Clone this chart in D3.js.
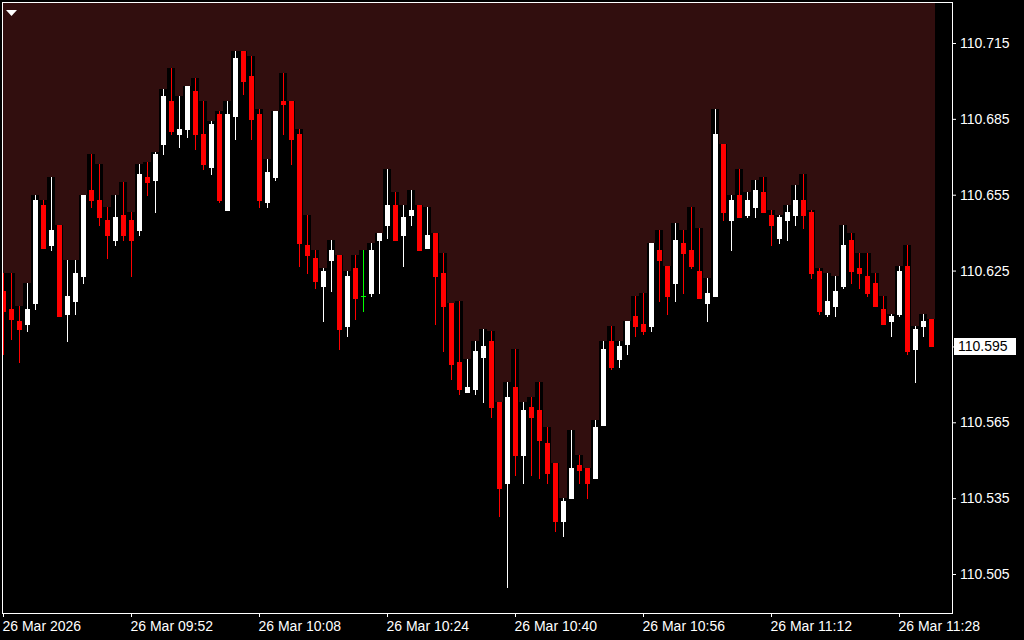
<!DOCTYPE html>
<html>
<head>
<meta charset="utf-8">
<script src="https://cdn.jsdelivr.net/npm/d3@7"></script>
<style>
  body { margin: 0; background: #000; }
  svg { display: block; }
</style>
</head>
<body>
<div id="wrapper"></div>
<script>
// one-minute bars, 26 Mar 09:36 .. 11:32
const open = [
  110.617, 110.610, 110.605, 110.604, 110.612, 110.651, 110.635, 110.643, 110.608, 110.613,
  110.623, 110.657, 110.653, 110.645, 110.637, 110.647, 110.645, 110.641, 110.662, 110.661,
  110.675, 110.692, 110.679, 110.681, 110.696, 110.679, 110.666, 110.687, 110.649, 110.686,
  110.712, 110.702, 110.687, 110.652, 110.662, 110.692, 110.692, 110.679, 110.635, 110.630,
  110.619, 110.629, 110.631, 110.603, 110.626, 110.615, 110.616, 110.637, 110.643, 110.651,
  110.639, 110.647, 110.651, 110.634, 110.640, 110.624, 110.612, 110.589, 110.577, 110.578,
  110.591, 110.597, 110.573, 110.541, 110.579, 110.552, 110.571, 110.570, 110.557, 110.549,
  110.526, 110.535, 110.548, 110.547, 110.543, 110.564, 110.597, 110.590, 110.596, 110.607,
  110.604, 110.603, 110.633, 110.627, 110.620, 110.636, 110.633, 110.625, 110.612, 110.615,
  110.675, 110.645, 110.655, 110.647, 110.650, 110.656, 110.647, 110.638, 110.645, 110.647,
  110.653, 110.648, 110.625, 110.608, 110.611, 110.619, 110.637, 110.626, 110.623, 110.620,
  110.610, 110.605, 110.608, 110.627, 110.594, 110.603, 110.606
];
const high = [
  110.624, 110.624, 110.611, 110.620, 110.655, 110.653, 110.662, 110.643, 110.629, 110.629,
  110.655, 110.671, 110.667, 110.650, 110.655, 110.660, 110.648, 110.667, 110.668, 110.672,
  110.697, 110.705, 110.694, 110.698, 110.701, 110.692, 110.684, 110.688, 110.692, 110.712,
  110.712, 110.710, 110.689, 110.669, 110.688, 110.703, 110.692, 110.681, 110.647, 110.633,
  110.626, 110.637, 110.631, 110.625, 110.631, 110.633, 110.636, 110.640, 110.665, 110.656,
  110.651, 110.657, 110.651, 110.650, 110.640, 110.632, 110.612, 110.613, 110.590, 110.597,
  110.602, 110.601, 110.573, 110.581, 110.594, 110.573, 110.575, 110.581, 110.563, 110.549,
  110.535, 110.562, 110.552, 110.547, 110.566, 110.597, 110.603, 110.597, 110.605, 110.615,
  110.616, 110.636, 110.641, 110.627, 110.644, 110.641, 110.650, 110.642, 110.622, 110.689,
  110.675, 110.655, 110.665, 110.656, 110.661, 110.662, 110.649, 110.647, 110.651, 110.659,
  110.663, 110.649, 110.626, 110.624, 110.623, 110.643, 110.640, 110.632, 110.632, 110.624,
  110.615, 110.608, 110.627, 110.635, 110.603, 110.608, 110.606
];
const low = [
  110.592, 110.598, 110.589, 110.601, 110.610, 110.634, 110.633, 110.607, 110.597, 110.608,
  110.620, 110.650, 110.643, 110.630, 110.635, 110.637, 110.623, 110.639, 110.655, 110.648,
  110.671, 110.679, 110.674, 110.678, 110.673, 110.665, 110.663, 110.652, 110.649, 110.677,
  110.695, 110.677, 110.650, 110.650, 110.661, 110.679, 110.667, 110.627, 110.624, 110.618,
  110.605, 110.617, 110.594, 110.599, 110.606, 110.609, 110.615, 110.616, 110.638, 110.637,
  110.627, 110.643, 110.633, 110.634, 110.604, 110.593, 110.582, 110.576, 110.577, 110.576,
  110.573, 110.567, 110.528, 110.500, 110.544, 110.541, 110.544, 110.543, 110.541, 110.522,
  110.520, 110.535, 110.541, 110.535, 110.543, 110.564, 110.586, 110.587, 110.592, 110.599,
  110.600, 110.601, 110.613, 110.608, 110.613, 110.616, 110.626, 110.614, 110.605, 110.615,
  110.645, 110.633, 110.646, 110.646, 110.646, 110.648, 110.635, 110.636, 110.637, 110.643,
  110.642, 110.622, 110.608, 110.607, 110.607, 110.618, 110.620, 110.618, 110.615, 110.611,
  110.604, 110.599, 110.607, 110.592, 110.581, 110.599, 110.595
];
const close = [
  110.609, 110.606, 110.602, 110.610, 110.653, 110.634, 110.641, 110.607, 110.615, 110.624,
  110.655, 110.653, 110.646, 110.639, 110.646, 110.639, 110.637, 110.663, 110.660, 110.671,
  110.694, 110.680, 110.681, 110.698, 110.679, 110.667, 110.683, 110.653, 110.687, 110.709,
  110.700, 110.685, 110.653, 110.664, 110.688, 110.691, 110.677, 110.636, 110.631, 110.621,
  110.625, 110.633, 110.602, 110.623, 110.614, 110.615, 110.633, 110.640, 110.651, 110.637,
  110.646, 110.649, 110.633, 110.639, 110.623, 110.611, 110.588, 110.578, 110.579, 110.593,
  110.595, 110.571, 110.539, 110.575, 110.552, 110.570, 110.567, 110.558, 110.545, 110.526,
  110.534, 110.547, 110.546, 110.541, 110.563, 110.594, 110.587, 110.595, 110.605, 110.603,
  110.601, 110.636, 110.629, 110.615, 110.637, 110.632, 110.627, 110.614, 110.616, 110.679,
  110.648, 110.653, 110.646, 110.653, 110.657, 110.648, 110.643, 110.646, 110.648, 110.653,
  110.647, 110.624, 110.609, 110.613, 110.617, 110.635, 110.625, 110.624, 110.616, 110.611,
  110.604, 110.607, 110.625, 110.593, 110.602, 110.605, 110.595
];

const priceTicks = [110.715, 110.685, 110.655, 110.625, 110.595, 110.565, 110.535, 110.505];
const timeTickIndex = [0, 16, 32, 48, 64, 80, 96, 112];
const timeTickLabels = [
  "26 Mar 2026", "26 Mar 09:52", "26 Mar 10:08", "26 Mar 10:24",
  "26 Mar 10:40", "26 Mar 10:56", "26 Mar 11:12", "26 Mar 11:28"
];

function buildChart() {
  const dimensions = {
    width: 1024,
    height: 640,
    left: 2,
    top: 2,
    right: 952,
    bottom: 613,
  };

  const svg = d3
    .select("#wrapper")
    .append("svg")
    .attr("width", dimensions.width)
    .attr("height", dimensions.height)
    .style("font-family", "'Liberation Sans', Arial, sans-serif");

  svg.append("rect")
    .attr("width", dimensions.width)
    .attr("height", dimensions.height)
    .attr("fill", "#000");

  svg.append("defs")
    .append("clipPath")
    .attr("id", "plot")
    .append("rect")
    .attr("x", dimensions.left + 1)
    .attr("y", dimensions.top + 1)
    .attr("width", dimensions.right - dimensions.left - 1)
    .attr("height", dimensions.bottom - dimensions.top - 1);

  const x = d3.scaleLinear().domain([0, open.length - 1]).range([3, 931]);
  const y = d3.scaleLinear().domain([110.505, 110.715]).range([574, 43]);
  const py = (v) => Math.round(y(v));

  const candles = open.map((o, i) => ({ i, o, h: high[i], l: low[i], c: close[i] }));
  const colour = (d) => (d.c > d.o ? "#ffffff" : d.c < d.o ? "#ff0000" : "#00ff00");

  const plot = svg.append("g").attr("clip-path", "url(#plot)");

  // dark red backdrop over the bar span
  plot.append("rect")
    .attr("x", dimensions.left + 1)
    .attr("y", dimensions.top + 1)
    .attr("width", x(open.length - 1) + 4 - (dimensions.left + 1))
    .attr("height", dimensions.bottom - dimensions.top - 1)
    .attr("fill", "#310e0e");

  // black column under each bar's high
  plot.selectAll(".column")
    .data(candles)
    .join("rect")
    .attr("class", "column")
    .attr("x", (d) => x(d.i) - 4)
    .attr("y", (d) => py(d.h))
    .attr("width", 8)
    .attr("height", (d) => dimensions.bottom - py(d.h))
    .attr("fill", "#000");

  // wicks
  plot.selectAll(".wick")
    .data(candles)
    .join("rect")
    .attr("class", "wick")
    .attr("x", (d) => x(d.i))
    .attr("y", (d) => py(d.h))
    .attr("width", 1)
    .attr("height", (d) => py(d.l) - py(d.h) + 1)
    .attr("fill", colour);

  // bodies (doji -> flat green bar)
  plot.selectAll(".body")
    .data(candles)
    .join("rect")
    .attr("class", "body")
    .attr("x", (d) => x(d.i) - 2)
    .attr("y", (d) => Math.min(py(d.o), py(d.c)))
    .attr("width", 5)
    .attr("height", (d) => Math.abs(py(d.o) - py(d.c)) + 1)
    .attr("fill", colour);

  // frame
  svg.append("rect")
    .attr("x", dimensions.left + 0.5)
    .attr("y", dimensions.top + 0.5)
    .attr("width", dimensions.right - dimensions.left)
    .attr("height", dimensions.bottom - dimensions.top)
    .attr("fill", "none")
    .attr("stroke", "#fff")
    .attr("stroke-width", 1);

  // price axis
  const yAxis = d3.axisRight(y)
    .tickValues(priceTicks)
    .tickSize(3)
    .tickPadding(4)
    .tickFormat(d3.format(".3f"));

  const yAxisGroup = svg.append("g")
    .attr("transform", `translate(${dimensions.right + 1},0)`)
    .call(yAxis);
  yAxisGroup.select(".domain").remove();
  yAxisGroup.selectAll("line").attr("stroke", "#fff");
  yAxisGroup.selectAll("text")
    .attr("fill", "#fff")
    .style("font-size", "14px");

  // time axis
  const xAxis = d3.axisBottom(x)
    .tickValues(timeTickIndex)
    .tickSize(4)
    .tickPadding(4)
    .tickFormat((d, i) => timeTickLabels[i]);

  const xAxisGroup = svg.append("g")
    .attr("transform", `translate(0,${dimensions.bottom})`)
    .call(xAxis);
  xAxisGroup.select(".domain").remove();
  xAxisGroup.selectAll("line").attr("stroke", "#fff");
  xAxisGroup.selectAll("text")
    .attr("fill", "#fff")
    .attr("text-anchor", "start")
    .attr("x", -1)
    .style("font-size", "14px");

  // last price marker
  const last = close[close.length - 1];
  const lastY = py(last);
  svg.append("rect")
    .attr("x", 954)
    .attr("y", lastY - 8)
    .attr("width", 62)
    .attr("height", 17)
    .attr("fill", "#fff");
  svg.append("text")
    .attr("x", 958)
    .attr("y", lastY)
    .attr("dy", "0.35em")
    .attr("fill", "#000")
    .style("font-size", "14px")
    .text(d3.format(".3f")(last));

  // menu triangle
  svg.append("path")
    .attr("d", "M6,10 L17,10 L11.5,16 Z")
    .attr("fill", "#fff");
}

buildChart();
</script>
</body>
</html>
